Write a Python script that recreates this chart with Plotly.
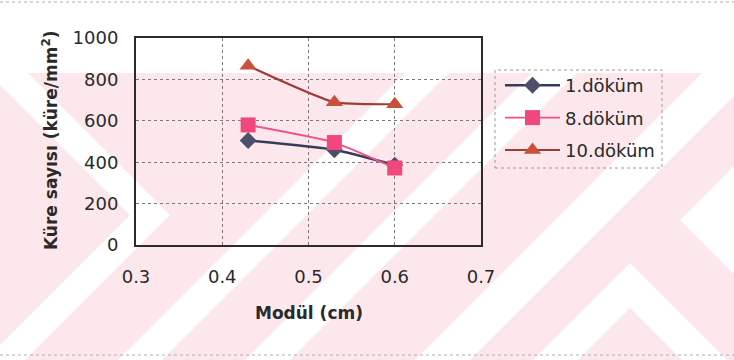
import plotly.graph_objects as go

# Nodule count against casting modulus for three pours
modul = [0.43, 0.53, 0.60]
dokum_1 = [505, 460, 386]
dokum_8 = [580, 495, 372]
dokum_10 = [866, 690, 680]

series_names = ["1.döküm", "8.döküm", "10.döküm"]
x_ticks = [0.3, 0.4, 0.5, 0.6, 0.7]
y_ticks = [0, 200, 400, 600, 800, 1000]

W, H = 734, 360
FONT = "DejaVu Sans"
TEXT = "#2a2a2a"


def px(x):
    return x / W


def py(y):
    return 1 - y / H


def poly(points):
    return "M " + " L ".join(f"{px(x):.5f},{py(y):.5f}" for x, y in points) + " Z"


PINK = "#fce8ec"
# background tint with diagonal white bands
bg_shapes = [
    dict(type="rect", xref="paper", yref="paper", x0=0, x1=1, y0=py(360), y1=py(73),
         fillcolor=PINK, line=dict(width=0), layer="below"),
]
white_bands = [
    [(28, 73), (170, 215), (25, 360), (-15, 360), (130, 215), (-12, 73)],
    [(405, 73), (449, 73), (162, 360), (118, 360)],
    [(532, 73), (577, 73), (290, 360), (245, 360)],
    [(702, 73), (757, 73), (470, 360), (415, 360)],
    [(680, 220), (800, 100), (800, 340)],
    [(520, 373), (630, 263), (740, 373), (695, 373), (630, 308), (565, 373)],
]
for pts in white_bands:
    bg_shapes.append(dict(type="path", xref="paper", yref="paper", path=poly(pts),
                          fillcolor="white", line=dict(width=0), layer="below"))

# faint dotted page rules
for yy in (2, 355):
    bg_shapes.append(dict(type="line", xref="paper", yref="paper", x0=0, x1=1,
                          y0=py(yy), y1=py(yy), line=dict(color="#b0b0b0", width=1, dash="dot"),
                          layer="below"))

# legend frame
bg_shapes.append(dict(type="rect", xref="paper", yref="paper", x0=px(495), x1=px(662),
                      y0=py(168), y1=py(70), line=dict(color="#9a9a9a", width=1, dash="dot"),
                      fillcolor="rgba(0,0,0,0)", layer="above"))

fig = go.Figure()
fig.add_trace(go.Scatter(
    x=modul, y=dokum_1, name=series_names[0], mode="lines+markers",
    line=dict(color="#3a3a5a", width=2.5, shape="spline", smoothing=0.5),
    marker=dict(symbol="diamond", size=13, color="#4e4e6e", line=dict(width=0)),
    legendgroup="a"))
fig.add_trace(go.Scatter(
    x=modul, y=dokum_8, name=series_names[1], mode="lines+markers",
    line=dict(color="#f0508a", width=1.8, shape="spline", smoothing=0.5),
    marker=dict(symbol="square", size=15, color="#f0487c", line=dict(width=0)),
    legendgroup="b"))
fig.add_trace(go.Scatter(
    x=modul, y=dokum_10, name=series_names[2], mode="lines+markers",
    line=dict(color="#9e3d38", width=2.2, shape="spline", smoothing=0.5),
    marker=dict(symbol="triangle-up", size=15, color="#c9503a", line=dict(width=0)),
    legendgroup="c"))

axis_common = dict(
    showline=True, mirror=True, linecolor="#2b2b2b", linewidth=2,
    showgrid=True, gridcolor="#7a7a7a", gridwidth=1, griddash="dot",
    zeroline=False, ticks="", automargin=False,
    tickfont=dict(family=FONT, size=18, color=TEXT),
)

fig.update_layout(
    width=W, height=H,
    margin=dict(l=0, r=0, t=0, b=0, autoexpand=False),
    paper_bgcolor="white",
    plot_bgcolor="rgba(0,0,0,0)",
    showlegend=True,
    xaxis=dict(domain=[px(136), px(481)], range=[0.3, 0.7], tickvals=x_ticks,
               tickformat=".1f", ticklabelstandoff=14, **axis_common),
    yaxis=dict(domain=[py(245), py(38)], range=[0, 1000], tickvals=y_ticks,
               ticklabelstandoff=12, **axis_common),
    legend=dict(x=px(500), y=py(67), xanchor="left", yanchor="top",
                bgcolor="rgba(0,0,0,0)", borderwidth=0, itemwidth=55,
                tracegroupgap=6, font=dict(family=FONT, size=18, color=TEXT)),
    shapes=bg_shapes,
    annotations=[
        dict(text="<b>Küre sayısı (küre/mm<sup>2</sup>)</b>", xref="paper", yref="paper",
             x=px(50), y=py(141), xanchor="center", yanchor="middle", showarrow=False,
             textangle=-90, font=dict(family=FONT, size=17, color=TEXT)),
        dict(text="<b>Modül (cm)</b>", xref="paper", yref="paper",
             x=px(309), y=py(313), xanchor="center", yanchor="middle", showarrow=False,
             font=dict(family=FONT, size=17, color=TEXT)),
    ],
)

fig.write_html("out.html")
